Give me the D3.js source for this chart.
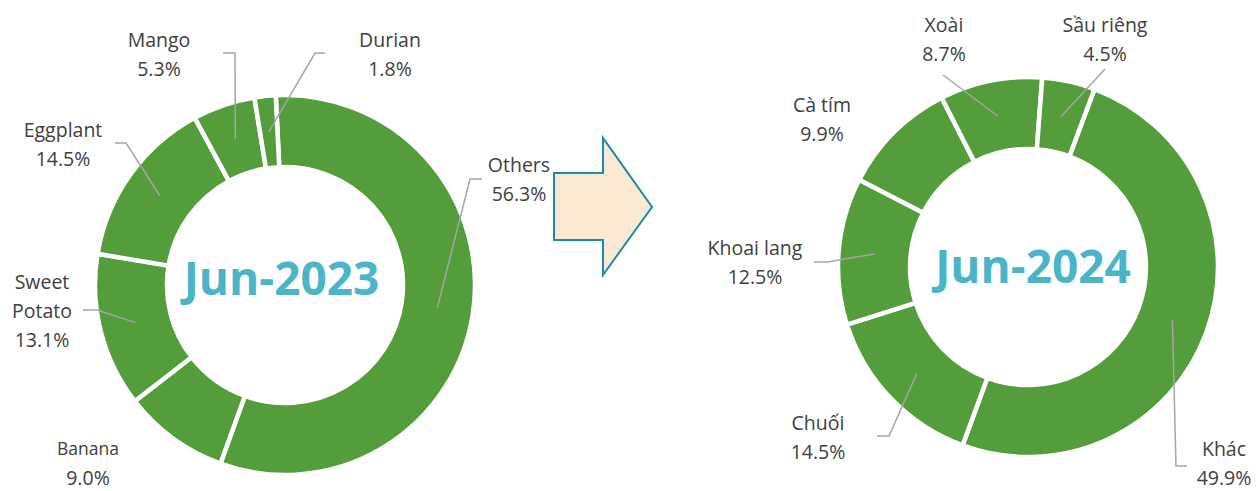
<!DOCTYPE html>
<html>
<head>
<meta charset="utf-8">
<script src="https://cdn.jsdelivr.net/npm/d3@7"></script>
<style>
  html, body { margin: 0; padding: 0; background: #fff; }
  svg { display: block; }
</style>
</head>
<body>
<svg id="chart" width="1258" height="491"></svg>
<script>
// ---- DATA ----
const titles2023 = "Jun-2023";
const titles2024 = "Jun-2024";
const categories2023 = ["Others", "Banana", "Sweet Potato", "Eggplant", "Mango", "Durian"];
const values2023 = [56.3, 9.0, 13.1, 14.5, 5.3, 1.8];
const categories2024 = ["Khác", "Chuối", "Khoai lang", "Cà tím", "Xoài", "Sầu riêng"];
const values2024 = [49.9, 14.5, 12.5, 9.9, 8.7, 4.5];

// ---- LAYOUT (positions / styles only) ----
const GREEN = "#539E3A";
const TEXT = "#404040";
const LEADER = "#A6A6A6";
const TITLE = "#4BB5C8";

const charts = [
  {
    title: titles2023, cats: categories2023, vals: values2023,
    cx: 285, cy: 285, startDeg: -2.8, titlePos: [281.5, 295],
    labels: [
      { lines: ["Others"], x: 519, y: 172, leader: [[470,179],[482,179]] },
      { lines: ["Banana"], x: 88, y: 455, small: true, leader: null },
      { lines: ["Sweet", "Potato"], x: 42, y: 289, leader: [[97,310],[83,310]] },
      { lines: ["Eggplant"], x: 63, y: 137, leader: [[126,143],[115,143]] },
      { lines: ["Mango"], x: 159, y: 47, leader: [[235,53],[223,53]] },
      { lines: ["Durian"], x: 390, y: 47, leader: [[315,53],[325,53]] }
    ]
  },
  {
    title: titles2024, cats: categories2024, vals: values2024,
    cx: 1028, cy: 267, startDeg: 20.5, titlePos: [1033, 283],
    labels: [
      { lines: ["Khác"], x: 1224, y: 456, leader: [[1176,466],[1187,466]] },
      { lines: ["Chuối"], x: 818, y: 430, leader: [[889,436],[877,436]] },
      { lines: ["Khoai lang"], x: 755, y: 255, leader: [[827,262],[814,262]] },
      { lines: ["Cà tím"], x: 822, y: 112, leader: null },
      { lines: ["Xoài"], x: 944, y: 32, leader: [[943,75]] },
      { lines: ["Sầu riêng"], x: 1105, y: 32, leader: [[1105,69]] }
    ]
  }
];

const OUTER = 190, INNER = 118;
const FONT = "'Open Sans', 'Noto Sans', sans-serif";
const svg = d3.select("#chart");

const arc = d3.arc().innerRadius(INNER).outerRadius(OUTER);

charts.forEach(c => {
  const start = c.startDeg * Math.PI / 180;
  const pie = d3.pie().sort(null).value(d => d)
    .startAngle(start).endAngle(start + 2 * Math.PI);
  const arcs = pie(c.vals);
  const g = svg.append("g").attr("transform", `translate(${c.cx},${c.cy})`);

  g.selectAll("path.slice").data(arcs).enter().append("path")
    .attr("class", "slice")
    .attr("d", arc)
    .attr("fill", GREEN)
    .attr("stroke", "#fff")
    .attr("stroke-width", 4.5)
    .attr("stroke-linejoin", "miter");

  // leader lines
  arcs.forEach((a, i) => {
    const lab = c.labels[i];
    if (!lab.leader) return;
    const cen = arc.centroid(a);
    const pts = [[c.cx + cen[0], c.cy + cen[1]], ...lab.leader];
    svg.append("polyline")
      .attr("points", pts.map(p => p.join(",")).join(" "))
      .attr("fill", "none")
      .attr("stroke", LEADER)
      .attr("stroke-width", 1.5);
  });

  // labels
  arcs.forEach((a, i) => {
    const lab = c.labels[i];
    const t = svg.append("text")
      .attr("text-anchor", "middle")
      .attr("fill", TEXT)
      .attr("font-family", FONT);
    const lines = lab.lines.concat([d3.format(".1f")(c.vals[i]) + "%"]);
    const spacing = lab.lines.length > 1 ? 29 : 28.5;
    lines.forEach((ln, k) => {
      const isPct = k === lines.length - 1;
      t.append("tspan")
        .attr("x", lab.x)
        .attr("y", lab.y + k * (lab.small ? 30 : spacing))
        .attr("font-size", (lab.small && !isPct) ? 17.5 : 19.5)
        .text(ln);
    });
  });

  // title
  svg.append("text")
    .attr("x", c.titlePos[0])
    .attr("y", c.titlePos[1])
    .attr("text-anchor", "middle")
    .attr("fill", TITLE)
    .attr("font-family", FONT)
    .attr("font-weight", "bold")
    .attr("font-size", 46)
    .text(c.title);
});

// arrow
const arrowPts = [[554,173],[603,173],[603,138],[652,207],[603,275],[603,240],[554,240]];
svg.append("polygon")
  .attr("points", arrowPts.map(p => p.join(",")).join(" "))
  .attr("fill", "#FBE9D3")
  .attr("stroke", "#1A8AB0")
  .attr("stroke-width", 2);
</script>
</body>
</html>
